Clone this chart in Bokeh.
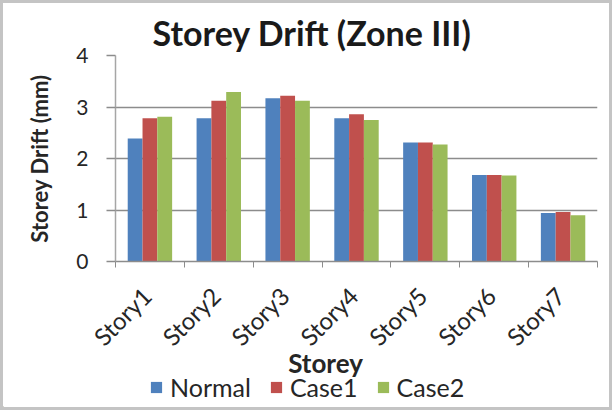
from bokeh.plotting import figure
from bokeh.models import Legend, LegendItem, FixedTicker, Range1d, ColumnDataSource, Label
from bokeh.layouts import column
from bokeh.embed import file_html
from bokeh.resources import INLINE
from bokeh.core.properties import value
import math

stories = ["Story1", "Story2", "Story3", "Story4", "Story5", "Story6", "Story7"]
normal = [2.39, 2.78, 3.17, 2.78, 2.31, 1.68, 0.94]
case1 = [2.78, 3.12, 3.22, 2.86, 2.31, 1.68, 0.96]
case2 = [2.81, 3.29, 3.12, 2.75, 2.27, 1.67, 0.90]
series_names = ["Normal", "Case1", "Case2"]
colors = ["#4F81BD", "#C0504D", "#9BBB59"]
y_ticks = [0, 1, 2, 3, 4]
title_text = "Storey Drift (Zone III)"
x_title = "Storey"
y_title = "Storey Drift (mm)"

FONT = "Lato"
TXT = "#262626"
N = len(stories)
centers = [i + 0.5 for i in range(N)]
bar_w = 0.215

W = 606
BL, BR = 112, 12
FRAME_W = W - BL - BR
PX = FRAME_W / N
MAIN_H = 270
LG_H = 134

p = figure(width=W, height=MAIN_H,
           min_border_left=BL, min_border_right=BR, min_border_top=52, min_border_bottom=12,
           x_range=Range1d(0, N), y_range=Range1d(0, 4),
           output_backend="svg", toolbar_location=None)

for k, (vals, col) in enumerate(zip([normal, case1, case2], colors)):
    src = ColumnDataSource(dict(x=[c + (k - 1) * bar_w for c in centers], top=vals))
    p.vbar(x="x", top="top", width=bar_w, bottom=0, source=src,
           fill_color=col, line_color=None)

# title above
p.title.text = title_text
p.title.text_font = FONT
p.title.text_font_size = "34px"
p.title.text_font_style = "bold"
p.title.text_color = "#1a1a1a"
p.title.align = "left"
p.title.offset = 37
p.title.standoff = 5

# x axis: line and category-boundary ticks (labels drawn in the strip below)
p.xaxis.ticker = FixedTicker(ticks=[], minor_ticks=list(range(N + 1)))
p.xaxis.major_label_standoff = 0
p.xaxis.major_tick_line_color = None
p.xaxis.major_tick_out = 0
p.xaxis.minor_tick_line_color = "#8c8c8c"
p.xaxis.minor_tick_in = 0
p.xaxis.minor_tick_out = 6
p.xaxis.axis_line_color = "#8c8c8c"
p.xaxis.axis_line_width = 1.5

# y axis
p.yaxis.ticker = FixedTicker(ticks=y_ticks, minor_ticks=[])
p.yaxis.major_tick_in = 0
p.yaxis.major_tick_out = 9
p.yaxis.major_tick_line_color = "#8c8c8c"
p.yaxis.major_tick_line_width = 1.5
p.yaxis.axis_line_color = "#a6a6a6"
p.yaxis.axis_line_width = 1.5
p.yaxis.major_label_text_font = FONT
p.yaxis.major_label_text_font_size = "21px"
p.yaxis.major_label_text_color = TXT
p.yaxis.major_label_standoff = 18
p.yaxis.axis_label = y_title
p.yaxis.axis_label_text_font = FONT
p.yaxis.axis_label_text_font_size = "22px"
p.yaxis.axis_label_text_font_style = "bold"
p.yaxis.axis_label_text_color = TXT
p.yaxis.axis_label_standoff = 20

p.xgrid.grid_line_color = None
p.ygrid.ticker = FixedTicker(ticks=y_ticks[1:])
p.ygrid.grid_line_color = "#8c8c8c"
p.ygrid.grid_line_width = 1.5
p.outline_line_color = None

# strip below: rotated category labels, x-axis title and legend.
# Its frame spans the full width; its x range is extended so categories line up with the bars.
lg = figure(width=W, height=LG_H, x_axis_type=None, y_axis_type=None,
            x_range=Range1d(-BL / PX, N + BR / PX), y_range=Range1d(0, LG_H),
            min_border_left=0, min_border_right=0, min_border_top=0, min_border_bottom=0,
            output_backend="svg", toolbar_location=None)
lg.frame_align = False
lg.grid.visible = False
lg.outline_line_color = None

lab_src = ColumnDataSource(dict(x=centers, y=[116] * N, text=stories))
lg.text(x="x", y="y", text="text", source=lab_src, angle=math.pi / 4, x_offset=-3,
        text_align="right", text_baseline="middle", text_font=value(FONT),
        text_font_size="24px", text_color=TXT)

lg.add_layout(Label(x=3.05, y=45, text=x_title, text_align="center", text_baseline="alphabetic",
                    text_font=FONT, text_font_size="26px", text_font_style="bold",
                    text_color=TXT))

items = []
for name, col in zip(series_names, colors):
    r = lg.vbar(x=[-50], top=[1], width=1, fill_color=col, line_color=None)
    items.append(LegendItem(label=name, renderers=[r]))
legend = Legend(items=items, orientation="horizontal", location=(146, 5),
                label_text_font=FONT, label_text_font_size="25px", label_text_color=TXT,
                glyph_width=14, glyph_height=14, label_standoff=7, spacing=18,
                border_line_color=None, background_fill_alpha=0, padding=0, margin=0)
lg.add_layout(legend, "center")

layout = column(p, lg, spacing=0, styles={"border": "3px solid #c4c4c4"})

open("out.html", "w").write(file_html(layout, INLINE))
